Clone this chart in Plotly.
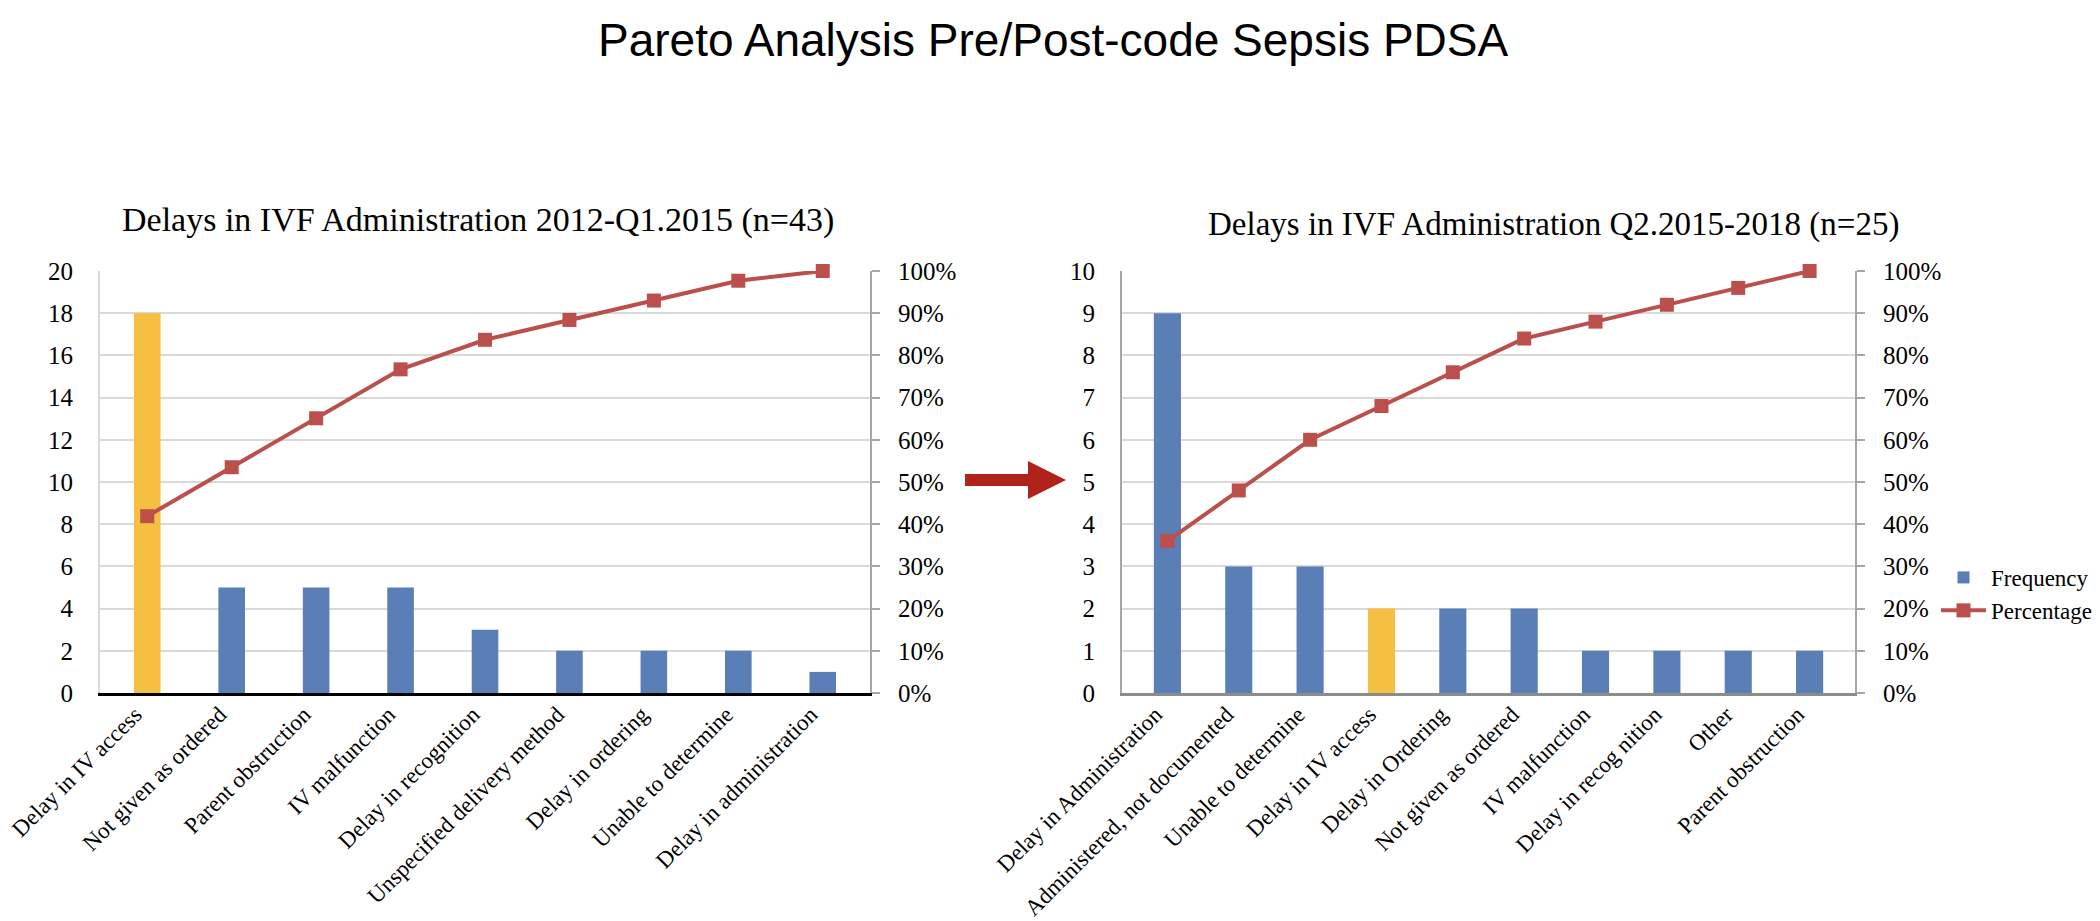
import plotly.graph_objects as go

# ---------------- data ----------------
pre_categories = ["Delay in IV access", "Not given as ordered", "Parent obstruction",
                  "IV malfunction", "Delay in recognition", "Unspecified delivery method",
                  "Delay in ordering", "Unable to determine", "Delay in administration"]
pre_frequency = [18, 5, 5, 5, 3, 2, 2, 2, 1]
pre_percentage = [0.419, 0.535, 0.651, 0.767, 0.837, 0.884, 0.930, 0.977, 1.000]

post_categories = ["Delay in Administration", "Administered, not documented", "Unable to determine",
                   "Delay in IV access", "Delay in Ordering", "Not given as ordered",
                   "IV malfunction", "Delay in recog nition", "Other", "Parent obstruction"]
post_frequency = [9, 3, 3, 2, 2, 2, 1, 1, 1, 1]
post_percentage = [0.36, 0.48, 0.60, 0.68, 0.76, 0.84, 0.88, 0.92, 0.96, 1.00]

left_ticks = [0, 2, 4, 6, 8, 10, 12, 14, 16, 18, 20]
right_ticks = [0, 1, 2, 3, 4, 5, 6, 7, 8, 9, 10]
pct_ticks = [0, 0.1, 0.2, 0.3, 0.4, 0.5, 0.6, 0.7, 0.8, 0.9, 1.0]

main_title = "Pareto Analysis Pre/Post-code Sepsis PDSA"
pre_title = "Delays in IVF Administration 2012-Q1.2015 (n=43)"
post_title = "Delays in IVF Administration Q2.2015-2018 (n=25)"
highlight = "Delay in IV access"

# ---------------- style ----------------
W, H = 2100, 921
BLUE = "#5A7EB6"
YELLOW = "#F5BF42"
RED = "#BA4F4B"
ARROW = "#B0231A"
GRID = "#D9D9D9"
AXG = "#A6A6A6"
SERIF = "Times New Roman, Liberation Serif, serif"
SANS = "Arial, Liberation Sans, sans-serif"

def px(x):
    return x / W

def py(y):
    return 1 - y / H

Y_TOP, Y_BOT = 263, 685

fig = go.Figure()

# left chart
fig.add_trace(go.Bar(x=pre_categories, y=pre_frequency, name="Frequency", width=0.315,
                     marker=dict(color=[YELLOW if c == highlight else BLUE for c in pre_categories],
                                 line=dict(width=0)),
                     xaxis="x", yaxis="y", showlegend=False))
fig.add_trace(go.Scatter(x=pre_categories, y=pre_percentage, name="Percentage",
                         mode="lines+markers", line=dict(color=RED, width=4),
                         marker=dict(symbol="square", size=14, color=RED),
                         cliponaxis=False, xaxis="x", yaxis="y2", showlegend=False))

# right chart
fig.add_trace(go.Bar(x=post_categories, y=post_frequency, name="Frequency", width=0.38,
                     marker=dict(color=[YELLOW if c == highlight else BLUE for c in post_categories],
                                 line=dict(width=0)),
                     xaxis="x2", yaxis="y3", showlegend=True))
fig.add_trace(go.Scatter(x=post_categories, y=post_percentage, name="Percentage",
                         mode="lines+markers", line=dict(color=RED, width=4),
                         marker=dict(symbol="square", size=14, color=RED),
                         cliponaxis=False, xaxis="x2", yaxis="y4", showlegend=True))

tickfont = dict(family=SERIF, size=25, color="black")
xtickfont = dict(family=SERIF, size=23, color="black")

fig.update_layout(
    width=W, height=H,
    margin=dict(l=0, r=0, t=0, b=0, autoexpand=False),
    paper_bgcolor="white", plot_bgcolor="white",
    showlegend=True,
    legend=dict(x=px(1928), y=py(548), xanchor="left", yanchor="top",
                font=dict(family=SERIF, size=23, color="black"),
                itemwidth=45, tracegroupgap=8, bgcolor="rgba(0,0,0,0)"),
    xaxis=dict(domain=[px(92), px(862)], anchor="y", tickangle=-45, automargin=False,
               tickfont=xtickfont, showline=True, linecolor="black", linewidth=3,
               showgrid=False, ticks="", fixedrange=True,
               ticklabelshift=-12, ticklabelstandoff=-4),
    yaxis=dict(domain=[py(Y_BOT), py(Y_TOP)], anchor="x", range=[0, 20], automargin=False,
               tickvals=left_ticks, tickfont=tickfont, showgrid=True,
               gridcolor=GRID, gridwidth=2, showline=True, linecolor=GRID,
               linewidth=2, ticks="", ticklabelstandoff=20, zeroline=False),
    yaxis2=dict(overlaying="y", side="right", anchor="x", range=[0, 1], automargin=False,
                tickvals=pct_ticks, tickformat=".0%", tickfont=tickfont,
                showgrid=False, showline=True, linecolor=AXG, linewidth=2,
                ticks="outside", ticklen=8, tickcolor=AXG, tickwidth=2,
                ticklabelstandoff=13, zeroline=False),
    xaxis2=dict(domain=[px(1114), px(1847)], anchor="y3", tickangle=-45, automargin=False,
                tickfont=xtickfont, showline=True, linecolor="#8C8C8C", linewidth=3,
                showgrid=False, ticks="", fixedrange=True,
                ticklabelshift=-12, ticklabelstandoff=-4),
    yaxis3=dict(domain=[py(Y_BOT), py(Y_TOP)], anchor="x2", range=[0, 10], automargin=False,
                tickvals=right_ticks, tickfont=tickfont, showgrid=True,
                gridcolor=GRID, gridwidth=2, showline=True, linecolor=AXG,
                linewidth=2, ticks="", ticklabelstandoff=20, zeroline=False),
    yaxis4=dict(overlaying="y3", side="right", anchor="x2", range=[0, 1], automargin=False,
                tickvals=pct_ticks, tickformat=".0%", tickfont=tickfont,
                showgrid=False, showline=True, linecolor=AXG, linewidth=2,
                ticks="outside", ticklen=8, tickcolor=AXG, tickwidth=2,
                ticklabelstandoff=13, zeroline=False),
)

# titles
fig.add_annotation(text=main_title, xref="paper", yref="paper", x=px(1045), y=py(32),
                   xanchor="center", yanchor="middle", showarrow=False,
                   font=dict(family=SANS, size=46, color="black"))
fig.add_annotation(text=pre_title, xref="paper", yref="paper", x=px(470), y=py(212),
                   xanchor="center", yanchor="middle", showarrow=False,
                   font=dict(family=SERIF, size=34, color="black"))
fig.add_annotation(text=post_title, xref="paper", yref="paper", x=px(1545), y=py(216),
                   xanchor="center", yanchor="middle", showarrow=False,
                   font=dict(family=SERIF, size=33, color="black"))

# red arrow between the charts
pts = [(957, 466), (1020, 466), (1020, 453), (1058, 472), (1020, 491), (1020, 478), (957, 478)]
path = "M " + " L ".join(f"{px(x):.5f},{py(y):.5f}" for x, y in pts) + " Z"
fig.add_shape(type="path", path=path, xref="paper", yref="paper",
              fillcolor=ARROW, line=dict(color=ARROW, width=0))

fig.write_html("out.html")
